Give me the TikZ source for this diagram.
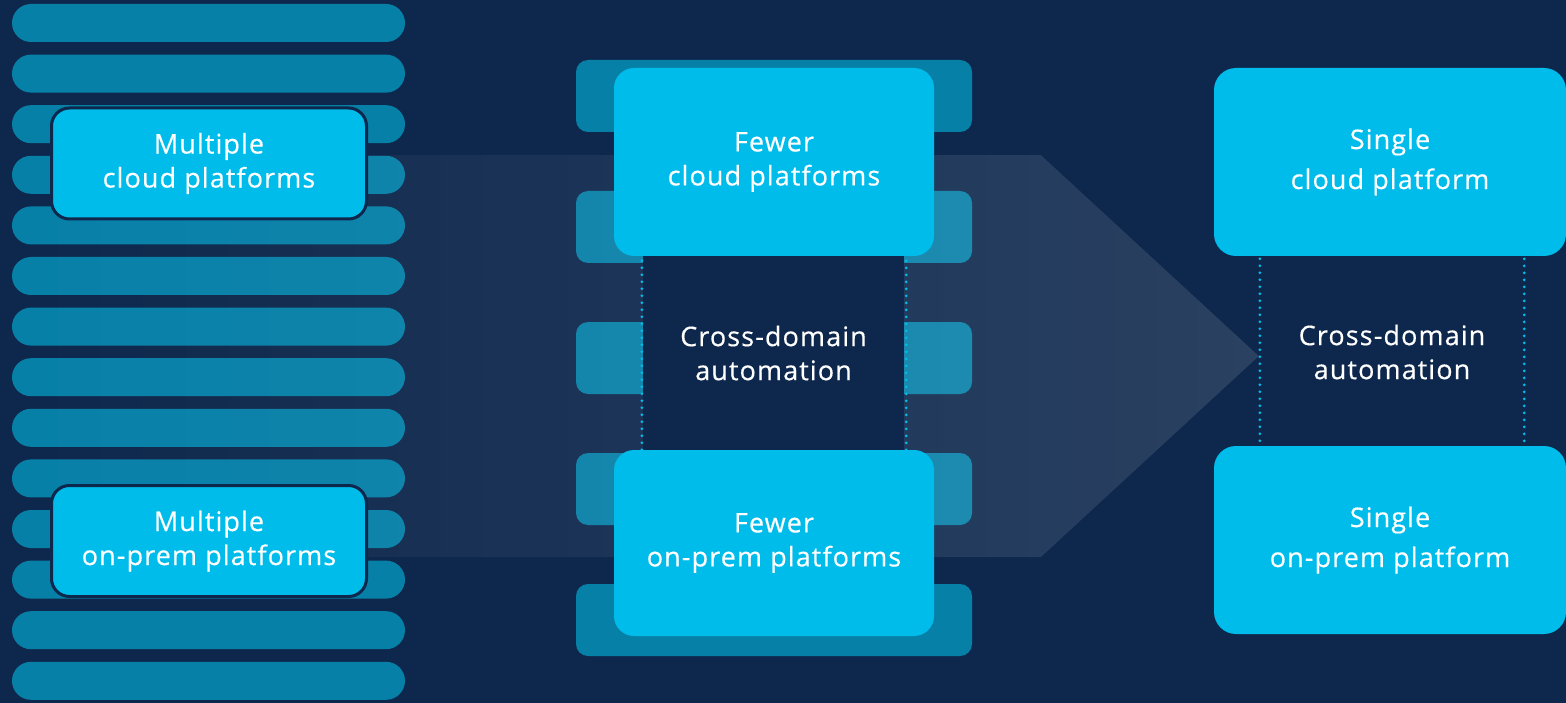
\documentclass[tikz,border=0pt]{standalone}
\usepackage{fontspec}
\setmainfont{Open Sans}[LetterSpace=4,FakeBold=0.4]
\usetikzlibrary{positioning,fadings}

\definecolor{navy}{HTML}{0E284D}
\definecolor{barblue}{HTML}{0780A8}
\definecolor{skyblue}{HTML}{00BCEB}

\tikzfading[name=bandfade, left color=transparent!100, middle color=transparent!0, right color=transparent!30]

\begin{document}
\begin{tikzpicture}[x=1pt,y=-1pt,
    bar/.style={fill=barblue,rounded corners=19pt,minimum width=393pt,minimum height=38pt,inner sep=0pt},
    tab/.style={fill=barblue,rounded corners=12pt,minimum width=396pt,minimum height=72pt,inner sep=0pt},
    platform/.style={fill=skyblue,text=white,align=center,inner sep=0pt,rounded corners=20pt,font=\fontsize{27}{34}\selectfont},
    framed/.style={platform,draw=navy,line width=3pt,rounded corners=18pt,minimum width=315pt,minimum height=111pt},
    gap/.style={text=white,align=center,inner sep=0pt,font=\fontsize{27}{34}\selectfont},
    dotline/.style={draw=skyblue,line width=3pt,line cap=round,dash pattern=on 0pt off 7pt}]

    \fill[navy] (0,0) rectangle (1566,703);
    \useasboundingbox (0,0) rectangle (1566,703);

    \foreach \i in {0,...,13}
        \node[bar] (bar\i) at (208.5,23+50.6*\i) {};

    \foreach \i in {0,...,4}
        \node[tab] (tab\i) at (774,96+131*\i) {};

    \fill[white,fill opacity=0.17,path fading=bandfade]
        (0,155) -- (1041,155) -- (1259,356) -- (1041,557) -- (0,557) -- cycle;

    \node[framed] (multicloud) at (209,163.5) {Multiple\\cloud platforms};
    \node[framed] (multiprem) at (209,541) {Multiple\\on-prem platforms};

    \node[gap,fill=navy,minimum width=261pt,minimum height=194pt] (midauto) at (773.5,353) {Cross-domain\\automation};
    \node[platform,minimum width=320pt,minimum height=188pt] (fewcloud) at (774,162) {Fewer\\cloud platforms};
    \node[platform,minimum width=320pt,minimum height=186pt] (fewprem) at (774,543) {Fewer\\on-prem platforms};

    \node[platform,rounded corners=22pt,minimum width=352pt,minimum height=188pt] (onecloud) at (1390,162) {Single\\[6pt]cloud platform};
    \node[gap,minimum width=264pt,minimum height=186pt] (rightauto) at (1392,352) {Cross-domain\\automation};
    \node[platform,rounded corners=22pt,minimum width=352pt,minimum height=188pt] (oneprem) at (1390,540) {Single\\[6pt]on-prem platform};

    \draw[dotline] ([xshift=-1pt,yshift=2pt]midauto.north west) -- ([xshift=-1pt,yshift=-5pt]midauto.south west);
    \draw[dotline] ([xshift=2pt,yshift=2pt]midauto.north east) -- ([xshift=2pt,yshift=-5pt]midauto.south east);
    \draw[dotline] (rightauto.north west) -- (rightauto.south west);
    \draw[dotline] (rightauto.north east) -- (rightauto.south east);
\end{tikzpicture}
\end{document}
